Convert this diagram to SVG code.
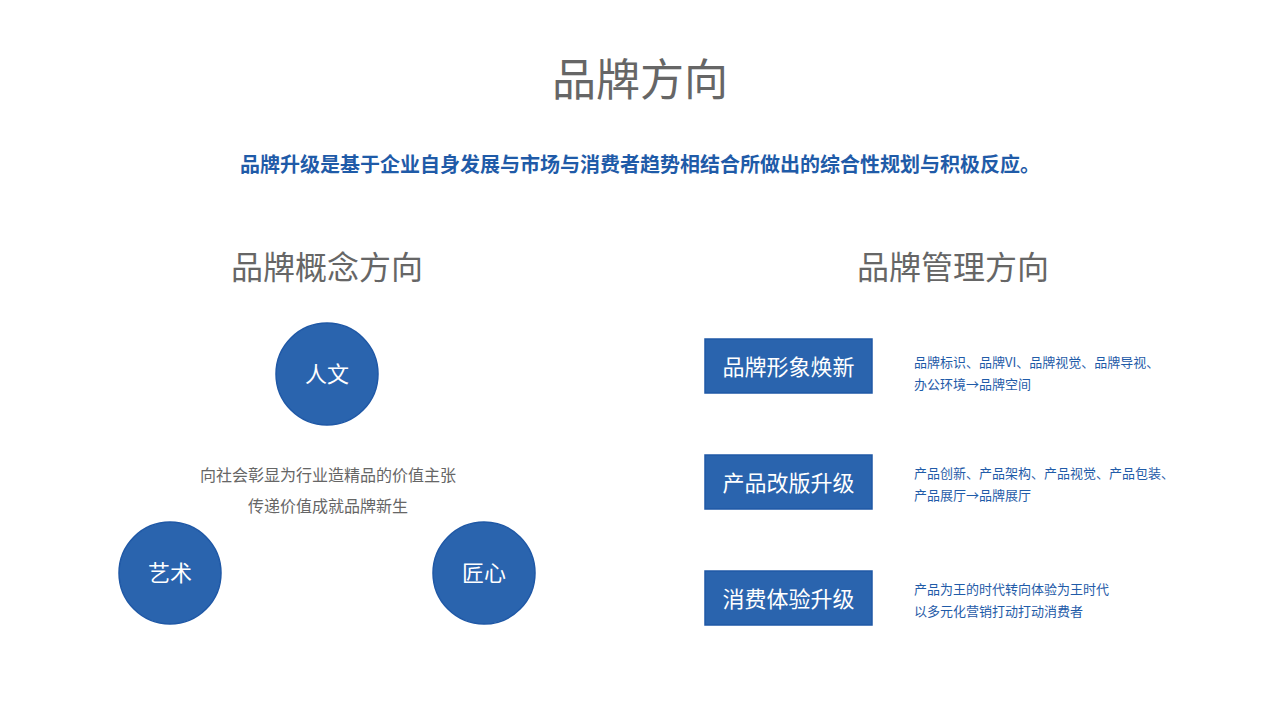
<svg xmlns="http://www.w3.org/2000/svg" width="1280" height="720" viewBox="0 0 1280 720">
<style>
text{font-family:"Noto Sans CJK SC","Noto Sans",sans-serif}
.gray{fill:#666}
.circ{fill:#2a64ae;stroke:#1f58a6;stroke-width:1.5}
.box{fill:#2a64ae;stroke:#1f58a6;stroke-width:1.5}
.wt{fill:#fff;text-anchor:middle}
.desc{fill:#1f5ba8;font-size:13px}
</style>
<rect width="1280" height="720" fill="#fff"/>
<text x="640" y="96" class="gray" font-size="44" text-anchor="middle">品牌方向</text>
<text x="640" y="172" fill="#1f5ba8" font-size="20" font-weight="bold" text-anchor="middle">品牌升级是基于企业自身发展与市场与消费者趋势相结合所做出的综合性规划与积极反应。</text>
<text x="327" y="279" class="gray" font-size="32" text-anchor="middle">品牌概念方向</text>
<text x="953" y="279" class="gray" font-size="32" text-anchor="middle">品牌管理方向</text>
<g id="n-renwen"><circle class="circ" cx="327" cy="374" r="51"/><text class="wt" x="327" y="382" font-size="22">人文</text></g>
<g id="n-yishu"><circle class="circ" cx="170" cy="573" r="51"/><text class="wt" x="170" y="581" font-size="22">艺术</text></g>
<g id="n-jiangxin"><circle class="circ" cx="484" cy="573" r="51"/><text class="wt" x="484" y="581" font-size="22">匠心</text></g>
<g id="n-center"><text x="328" y="481" class="gray" font-size="16" text-anchor="middle">向社会彰显为行业造精品的价值主张</text><text x="328" y="512" class="gray" font-size="16" text-anchor="middle">传递价值成就品牌新生</text></g>
<g id="n-b1"><rect class="box" x="705" y="339" width="167" height="54"/><text class="wt" x="788.5" y="375" font-size="22">品牌形象焕新</text></g>
<g id="n-b2"><rect class="box" x="705" y="455" width="167" height="54"/><text class="wt" x="788.5" y="491" font-size="22">产品改版升级</text></g>
<g id="n-b3"><rect class="box" x="705" y="571" width="167" height="54"/><text class="wt" x="788.5" y="607" font-size="22">消费体验升级</text></g>
<g id="n-d1"><text class="desc" x="914" y="367">品牌标识、品牌VI、品牌视觉、品牌导视、</text><text class="desc" x="914" y="389">办公环境→品牌空间</text></g>
<g id="n-d2"><text class="desc" x="914" y="478">产品创新、产品架构、产品视觉、产品包装、</text><text class="desc" x="914" y="500">产品展厅→品牌展厅</text></g>
<g id="n-d3"><text class="desc" x="914" y="594">产品为王的时代转向体验为王时代</text><text class="desc" x="914" y="616">以多元化营销打动打动消费者</text></g>
<g id="connectors"></g>
</svg>
